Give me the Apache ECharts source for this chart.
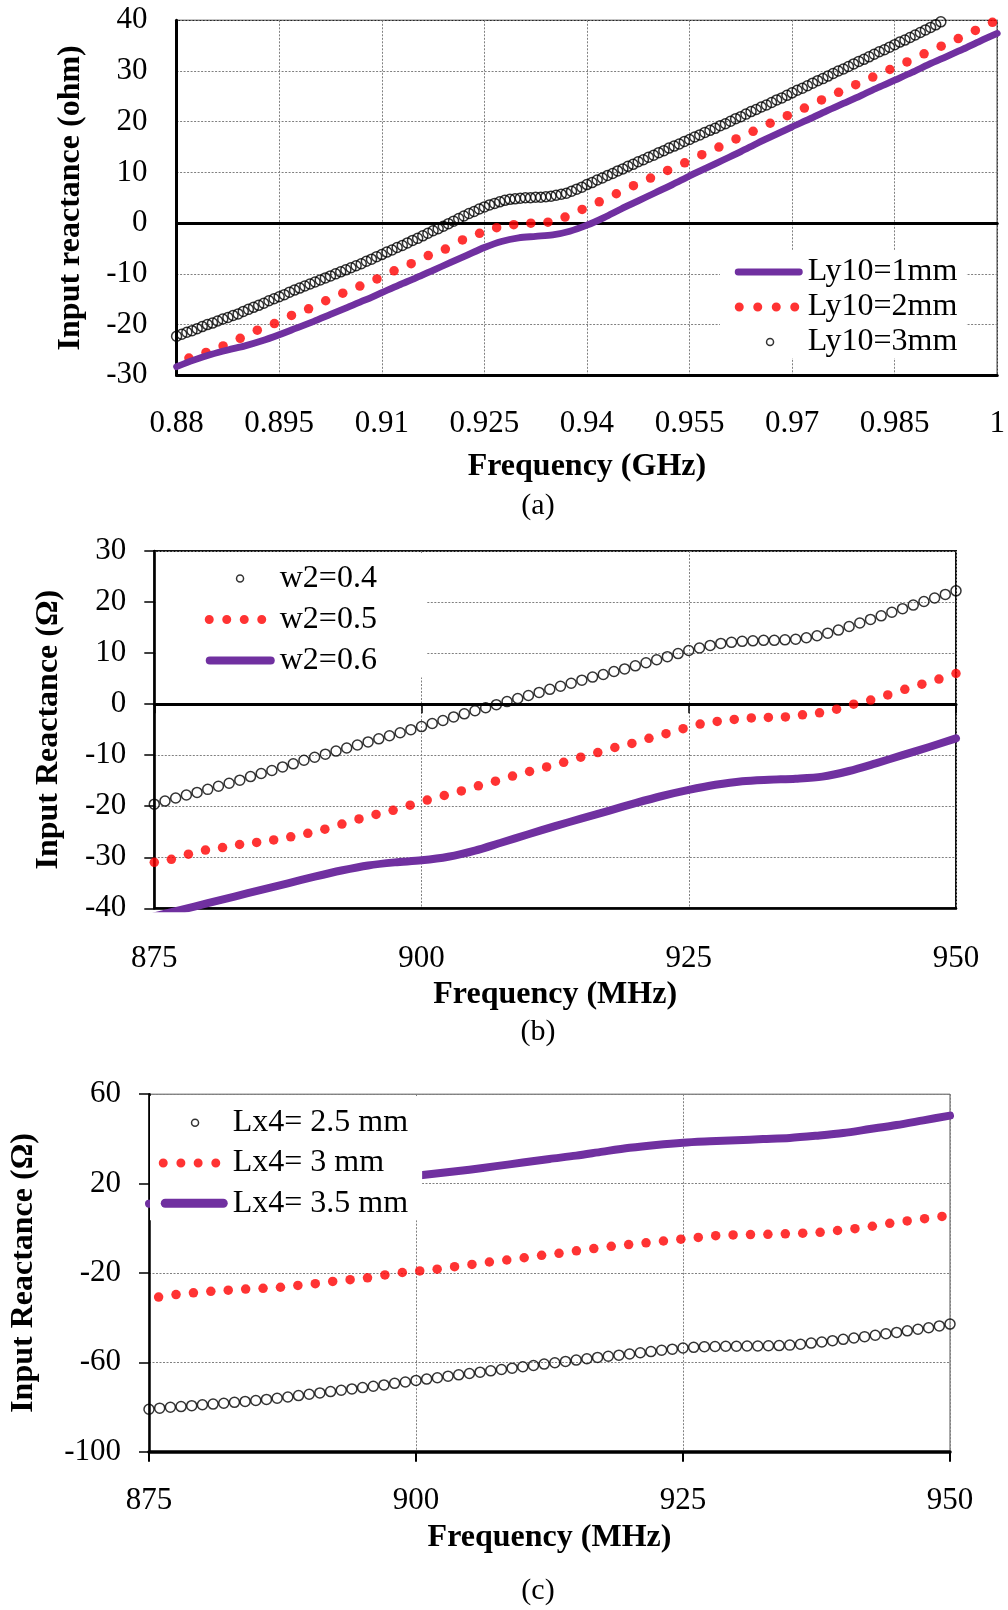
<!DOCTYPE html>
<html>
<head>
<meta charset="utf-8">
<script src="https://cdn.jsdelivr.net/npm/echarts@6/dist/echarts.min.js"></script>
<style>
  html, body { margin: 0; padding: 0; background: #fff; }
  #chart { width: 1008px; height: 1610px; }
</style>
</head>
<body>
<div id="chart"></div>
<script>
// ---------- (a) input reactance vs frequency (GHz), Ly10 sweep ----------
const aXRange = [0.88, 1.0, 0.015];
const aYRange = [-30, 40, 10];
// Ly10=1mm, sampled from 0.88 GHz every 0.0025 GHz
const aLy10_1 = [
  -28.3, -27.0, -25.9, -25.0, -24.2, -23.2, -22.0, -20.7, -19.4, -18.0,
  -16.6, -15.2, -13.7, -12.2, -10.8, -9.3, -7.8, -6.3, -4.8, -3.6,
  -2.9, -2.6, -2.3, -1.6, -0.4, 1.1, 2.8, 4.4, 6.0, 7.6,
  9.3, 10.9, 12.5, 14.1, 15.8, 17.4, 19.0, 20.5, 22.1, 23.6,
  25.1, 26.7, 28.2, 29.7, 31.3, 32.8, 34.3, 35.9, 37.4
];
// Ly10=2mm, sampled from 0.8818 GHz every 0.0025 GHz
const aLy10_2 = [
  -26.6, -25.5, -24.2, -22.7, -21.1, -19.8, -18.2, -16.9, -15.3, -13.8,
  -12.4, -11.0, -9.4, -8.0, -6.4, -5.1, -3.3, -2.0, -0.9, -0.3,
  0.0, 0.2, 1.2, 2.7, 4.2, 5.8, 7.4, 8.9, 10.4, 11.9,
  13.5, 15.0, 16.6, 18.1, 19.7, 21.2, 22.7, 24.3, 25.8, 27.3,
  28.8, 30.3, 31.8, 33.4, 34.9, 36.4, 38.0, 39.6
];
// Ly10=3mm, sampled from 0.88 GHz every 0.00075 GHz
const aLy10_3 = [
  -22.3, -21.9, -21.5, -21.2, -20.8, -20.4, -20.0, -19.7, -19.3, -18.9,
  -18.6, -18.2, -17.9, -17.4, -17.0, -16.6, -16.2, -15.8, -15.3, -14.9,
  -14.5, -14.1, -13.6, -13.2, -12.8, -12.4, -12.0, -11.6, -11.2, -10.8,
  -10.4, -10.0, -9.6, -9.2, -8.8, -8.4, -8.0, -7.5, -7.1, -6.6,
  -6.2, -5.7, -5.3, -4.8, -4.4, -3.9, -3.4, -3.0, -2.5, -2.0,
  -1.5, -1.1, -0.6, -0.1, 0.4, 0.9, 1.4, 1.9, 2.3, 2.8,
  3.2, 3.6, 3.9, 4.2, 4.5, 4.7, 4.8, 4.9, 5.0, 5.0,
  5.1, 5.1, 5.2, 5.3, 5.5, 5.7, 5.9, 6.3, 6.7, 7.1,
  7.6, 8.0, 8.5, 8.9, 9.4, 9.8, 10.3, 10.7, 11.2, 11.6,
  12.1, 12.5, 13.0, 13.4, 13.9, 14.3, 14.8, 15.2, 15.6, 16.1,
  16.5, 17.0, 17.4, 17.9, 18.3, 18.7, 19.2, 19.6, 20.1, 20.6,
  21.0, 21.5, 22.0, 22.4, 22.9, 23.3, 23.8, 24.3, 24.7, 25.2,
  25.7, 26.2, 26.6, 27.1, 27.6, 28.1, 28.5, 29.0, 29.5, 30.0,
  30.4, 30.9, 31.4, 31.9, 32.3, 32.8, 33.3, 33.8, 34.2, 34.7,
  35.2, 35.7, 36.1, 36.6, 37.1, 37.6, 38.1, 38.6, 39.1, 39.7
];

// ---------- (b) input reactance vs frequency (MHz), w2 sweep ----------
const bXRange = [875, 950, 25];
const bYRange = [-40, 30, 10];
// w2=0.4, every 1 MHz from 875 MHz
const bW04 = [
  -19.6, -19.0, -18.4, -17.8, -17.3, -16.7, -16.1, -15.5, -14.9, -14.2,
  -13.6, -13.0, -12.3, -11.7, -11.0, -10.4, -9.8, -9.2, -8.6, -8.0,
  -7.4, -6.8, -6.2, -5.6, -5.0, -4.4, -3.8, -3.2, -2.5, -1.9,
  -1.3, -0.7, -0.1, 0.5, 1.1, 1.7, 2.3, 2.9, 3.5, 4.1,
  4.7, 5.3, 5.8, 6.4, 6.9, 7.5, 8.1, 8.7, 9.3, 9.9,
  10.5, 11.0, 11.5, 11.9, 12.1, 12.3, 12.4, 12.5, 12.5, 12.6,
  12.7, 13.0, 13.4, 13.9, 14.5, 15.2, 15.9, 16.6, 17.3, 18.0,
  18.7, 19.4, 20.1, 20.8, 21.5, 22.2
];
// w2=0.5, 48 samples spread evenly over 875-950 MHz
const bW05 = [
  -31.0, -30.4, -29.4, -28.6, -28.1, -27.5, -27.1, -26.6, -26.0, -25.3,
  -24.5, -23.5, -22.5, -21.6, -20.8, -19.8, -18.8, -17.9, -17.0, -16.0,
  -15.1, -14.1, -13.2, -12.3, -11.4, -10.4, -9.5, -8.5, -7.7, -6.7,
  -5.8, -4.8, -3.9, -3.4, -3.0, -2.7, -2.6, -2.5, -2.1, -1.7,
  -1.0, 0.0, 0.8, 1.8, 2.9, 3.9, 4.9, 6.0
];
// w2=0.6, every 2.5 MHz from 875 MHz
const bW06 = [
  -41.6, -40.3, -39.0, -37.7, -36.4, -35.1, -33.8, -32.6, -31.6, -31.0,
  -30.6, -29.9, -28.7, -27.1, -25.5, -23.9, -22.4, -20.9, -19.4, -18.0,
  -16.8, -15.8, -15.1, -14.8, -14.6, -14.2, -13.1, -11.6, -10.0, -8.4,
  -6.7
];

// ---------- (c) input reactance vs frequency (MHz), Lx4 sweep ----------
const cXRange = [875, 950, 25];
const cYRange = [-100, 60, 40];
// Lx4=2.5 mm, every 1 MHz from 875 MHz
const cL25 = [
  -81.0, -80.5, -80.1, -79.8, -79.4, -79.0, -78.7, -78.3, -77.9, -77.5,
  -77.1, -76.6, -76.1, -75.5, -74.9, -74.3, -73.7, -73.1, -72.5, -71.9,
  -71.3, -70.7, -70.1, -69.4, -68.8, -68.1, -67.5, -66.9, -66.2, -65.6,
  -65.0, -64.4, -63.8, -63.2, -62.6, -62.0, -61.4, -60.8, -60.2, -59.6,
  -59.0, -58.4, -57.8, -57.3, -56.8, -56.3, -55.7, -55.2, -54.6, -54.1,
  -53.6, -53.3, -53.0, -52.9, -52.8, -52.8, -52.7, -52.7, -52.6, -52.5,
  -52.3, -51.9, -51.4, -50.9, -50.3, -49.7, -49.1, -48.5, -47.9, -47.2,
  -46.6, -45.9, -45.2, -44.5, -43.7, -42.9
];
// Lx4=3 mm, every 1.63 MHz from 875.9 MHz
const cL30 = [
  -30.8, -29.7, -28.9, -28.2, -27.7, -27.2, -26.9, -26.4, -25.6, -24.8,
  -23.8, -23.0, -22.2, -20.9, -19.8, -19.1, -18.3, -17.2, -16.2, -15.1,
  -14.2, -13.2, -12.1, -11.2, -10.1, -9.1, -8.1, -7.3, -6.5, -5.7,
  -4.9, -4.1, -3.3, -3.0, -2.8, -2.7, -2.5, -2.2, -1.8, -1.0,
  -0.2, 0.9, 2.2, 3.3, 4.3, 5.3
];
// Lx4=3.5 mm, every 2.5 MHz from 875 MHz
const cL35 = [
  11.0, 12.0, 13.3, 14.5, 15.8, 17.0, 18.3, 19.6, 20.9, 22.2,
  23.5, 24.8, 26.2, 27.8, 29.4, 31.0, 32.5, 34.3, 36.0, 37.3,
  38.3, 38.9, 39.4, 39.9, 40.4, 41.4, 42.6, 44.4, 46.2, 48.3,
  50.4
];

// ---------- helpers ----------
const FONT = '"Liberation Serif", "Times New Roman", serif';
const PURPLE = '#7030A0';
const RED = '#FF0000';
const GRID_LINE = { show: true, lineStyle: { color: '#808080', width: 1, type: [2, 1.5] } };

// pair sampled frequencies with the reactance values
function pairs(start, step, ys) {
  return ys.map((y, i) => [+(start + i * step).toFixed(5), y]);
}

// legend icons: a 10px tall box, width w; the two leading moves fix its bounds
function dotsIcon(w, centers, r) {
  let p = 'path://M0 0M' + w + ' 10';
  centers.forEach(c => {
    p += 'M' + (c - r) + ' 5A' + r + ' ' + r + ' 0 1 0 ' + (c + r) + ' 5A' + r + ' ' + r + ' 0 1 0 ' + (c - r) + ' 5Z';
  });
  return p;
}
function barIcon(w, a, b, t) {
  const r = t / 2, y0 = 5 - r, y1 = 5 + r;
  return 'path://M0 0M' + w + ' 10M' + (a + r) + ' ' + y0 + 'L' + (b - r) + ' ' + y0 +
    'A' + r + ' ' + r + ' 0 0 1 ' + (b - r) + ' ' + y1 + 'L' + (a + r) + ' ' + y1 +
    'A' + r + ' ' + r + ' 0 0 1 ' + (a + r) + ' ' + y0 + 'Z';
}

const tickLabel = (margin, fmt) => ({
  color: '#000', fontFamily: FONT, fontSize: 31, margin: margin, formatter: fmt
});
const axisTitle = { color: '#000', fontFamily: FONT, fontSize: 32, fontWeight: 'bold' };
const legendText = { color: '#000', fontFamily: FONT, fontSize: 32, lineHeight: 32 };

const circleStyle = { color: 'rgba(0,0,0,0)', borderColor: '#000', borderWidth: 1.5 };
const dotStyle = { color: RED, borderWidth: 0 };
const lineIconStyle = { color: PURPLE, borderWidth: 0 };

function valueXAxis(gridIndex, range, extra) {
  return Object.assign({
    type: 'value', gridIndex: gridIndex, position: 'bottom',
    min: range[0], max: range[1], interval: range[2]
  }, extra);
}
function valueYAxis(gridIndex, range, extra) {
  return Object.assign({
    type: 'value', gridIndex: gridIndex, position: 'left',
    min: range[0], max: range[1], interval: range[2]
  }, extra);
}

const option = {
  backgroundColor: '#fff',
  animation: false,
  grid: [
    { left: 176.6, top: 20.3, width: 821.1, height: 355, show: true, borderColor: '#222', borderWidth: 1.3, backgroundColor: 'transparent' },
    { left: 154.3, top: 551, width: 801.7, height: 357.3, show: true, borderColor: '#111', borderWidth: 2, backgroundColor: 'transparent' },
    { left: 148, top: 1094.2, width: 802, height: 357.5, show: true, borderColor: '#555', borderWidth: 1, backgroundColor: 'transparent' }
  ],
  xAxis: [
    valueXAxis(0, aXRange, {
      axisLine: { show: true, onZero: false, lineStyle: { color: '#000', width: 3 } },
      axisTick: { show: false },
      axisLabel: tickLabel(33, v => String(parseFloat(v.toFixed(3)))),
      splitLine: GRID_LINE,
      name: 'Frequency (GHz)', nameLocation: 'middle', nameGap: 75, nameTextStyle: axisTitle
    }),
    valueXAxis(0, aXRange, {
      axisLine: { show: true, onZero: true, lineStyle: { color: '#000', width: 3 } },
      axisTick: { show: false }, axisLabel: { show: false }, splitLine: { show: false }
    }),
    valueXAxis(1, bXRange, {
      axisLine: { show: true, onZero: false, lineStyle: { color: '#000', width: 2.5 } },
      axisTick: { show: false },
      axisLabel: tickLabel(35),
      splitLine: GRID_LINE,
      name: 'Frequency (MHz)', nameLocation: 'middle', nameGap: 70, nameTextStyle: axisTitle
    }),
    valueXAxis(1, bXRange, {
      axisLine: { show: true, onZero: true, lineStyle: { color: '#000', width: 3 } },
      axisTick: { show: true, length: 9, lineStyle: { color: '#000', width: 1.5 } },
      axisLabel: { show: false }, splitLine: { show: false }
    }),
    valueXAxis(2, cXRange, {
      axisLine: { show: true, onZero: false, lineStyle: { color: '#000', width: 3.5 } },
      axisTick: { show: true, length: 10, lineStyle: { color: '#000', width: 2 } },
      axisLabel: tickLabel(34),
      splitLine: GRID_LINE,
      name: 'Frequency (MHz)', nameLocation: 'middle', nameGap: 70, nameTextStyle: axisTitle
    })
  ],
  yAxis: [
    valueYAxis(0, aYRange, {
      axisLine: { show: true, onZero: false, lineStyle: { color: '#000', width: 3 } },
      axisTick: { show: false },
      axisLabel: tickLabel(29),
      splitLine: GRID_LINE,
      name: 'Input reactance (ohm)', nameLocation: 'middle', nameGap: 90, nameTextStyle: axisTitle
    }),
    valueYAxis(1, bYRange, {
      axisLine: { show: true, onZero: false, lineStyle: { color: '#000', width: 2.5 } },
      axisTick: { show: true, length: 10, lineStyle: { color: '#000', width: 1.5 } },
      axisLabel: tickLabel(28),
      splitLine: GRID_LINE,
      name: 'Input Reactance (\u03A9)', nameLocation: 'middle', nameGap: 90, nameTextStyle: axisTitle
    }),
    valueYAxis(2, cYRange, {
      axisLine: { show: true, onZero: false, lineStyle: { color: '#000', width: 2.5 } },
      axisTick: { show: true, length: 10, lineStyle: { color: '#000', width: 1.5 } },
      axisLabel: tickLabel(28),
      splitLine: GRID_LINE,
      name: 'Input Reactance (\u03A9)', nameLocation: 'middle', nameGap: 109, nameTextStyle: axisTitle
    })
  ],
  legend: [
    {
      orient: 'vertical', left: 720, top: 250, padding: [6, 9, 0, 14], itemGap: 3,
      itemWidth: 68, itemHeight: 10, backgroundColor: '#fff', selectedMode: false,
      textStyle: legendText,
      data: [
        { name: 'Ly10=1mm', icon: barIcon(68, 0, 68, 6.8), itemStyle: lineIconStyle },
        { name: 'Ly10=2mm', icon: dotsIcon(68, [4.5, 23, 41.5, 60], 4.5), itemStyle: dotStyle },
        { name: 'Ly10=3mm', icon: dotsIcon(68, [35.3], 3.5), itemStyle: circleStyle }
      ]
    },
    {
      orient: 'vertical', left: 156, top: 553, padding: [9.5, 50, 1, 48], itemGap: 9,
      itemWidth: 70, itemHeight: 10, backgroundColor: '#fff', selectedMode: false,
      textStyle: legendText,
      data: [
        { name: 'w2=0.4', icon: dotsIcon(70, [35.3], 3.5), itemStyle: circleStyle },
        { name: 'w2=0.5', icon: dotsIcon(70, [4.5, 22, 39.5, 57], 4.5), itemStyle: dotStyle },
        { name: 'w2=0.6', icon: barIcon(70, 1, 70, 8.2), itemStyle: lineIconStyle }
      ]
    },
    {
      orient: 'vertical', left: 150, top: 1096, padding: [10.7, 14, 1, 8], itemGap: 8.3,
      itemWidth: 69, itemHeight: 10, backgroundColor: '#fff', selectedMode: false,
      textStyle: legendText,
      data: [
        { name: 'Lx4= 2.5 mm', icon: dotsIcon(69, [36.3], 3.5), itemStyle: circleStyle },
        { name: 'Lx4= 3 mm', icon: dotsIcon(69, [4.3, 22, 39.3, 57], 4.5), itemStyle: dotStyle },
        { name: 'Lx4= 3.5 mm', icon: barIcon(69, 2, 69, 9), itemStyle: lineIconStyle }
      ]
    }
  ],
  series: [
    // (a)
    { type: 'line', name: 'Ly10=1mm', xAxisIndex: 0, yAxisIndex: 0, data: pairs(0.88, 0.0025, aLy10_1),
      symbol: 'none', smooth: 0.3, lineStyle: { color: PURPLE, width: 6.8, cap: 'round', join: 'round' },
      itemStyle: { color: PURPLE }, silent: true },
    { type: 'scatter', name: 'Ly10=2mm', xAxisIndex: 0, yAxisIndex: 0, data: pairs(0.8818, 0.0025, aLy10_2),
      symbol: 'circle', symbolSize: 9.5, itemStyle: { color: RED }, silent: true },
    { type: 'scatter', name: 'Ly10=3mm', xAxisIndex: 0, yAxisIndex: 0, data: pairs(0.88, 0.00075, aLy10_3),
      symbol: 'circle', symbolSize: 10, itemStyle: circleStyle, silent: true },
    // (b)
    { type: 'scatter', name: 'w2=0.4', xAxisIndex: 2, yAxisIndex: 1, data: pairs(875, 1, bW04),
      symbol: 'circle', symbolSize: 10, itemStyle: circleStyle, silent: true },
    { type: 'scatter', name: 'w2=0.5', xAxisIndex: 2, yAxisIndex: 1, data: pairs(875, 75 / 47, bW05),
      symbol: 'circle', symbolSize: 9.5, itemStyle: { color: RED }, silent: true },
    { type: 'line', name: 'w2=0.6', xAxisIndex: 2, yAxisIndex: 1, data: pairs(875, 2.5, bW06),
      symbol: 'none', smooth: 0.3, lineStyle: { color: PURPLE, width: 8, cap: 'round', join: 'round' },
      itemStyle: { color: PURPLE }, silent: true },
    // (c)
    { type: 'scatter', name: 'Lx4= 2.5 mm', xAxisIndex: 4, yAxisIndex: 2, data: pairs(875, 1, cL25),
      symbol: 'circle', symbolSize: 10, itemStyle: circleStyle, silent: true },
    { type: 'scatter', name: 'Lx4= 3 mm', xAxisIndex: 4, yAxisIndex: 2, data: pairs(875.9, 1.63, cL30),
      symbol: 'circle', symbolSize: 9.5, itemStyle: { color: RED }, silent: true },
    { type: 'line', name: 'Lx4= 3.5 mm', xAxisIndex: 4, yAxisIndex: 2, data: pairs(875, 2.5, cL35),
      symbol: 'none', smooth: 0.3, lineStyle: { color: PURPLE, width: 8, cap: 'round', join: 'round' },
      itemStyle: { color: PURPLE }, silent: true }
  ],
  graphic: [
    { type: 'text', x: 538, y: 506, style: { text: '(a)', fontFamily: FONT, fontSize: 30, fill: '#000', align: 'center', verticalAlign: 'middle', textAlign: 'center', textVerticalAlign: 'middle' } },
    { type: 'text', x: 538, y: 1032, style: { text: '(b)', fontFamily: FONT, fontSize: 30, fill: '#000', align: 'center', verticalAlign: 'middle', textAlign: 'center', textVerticalAlign: 'middle' } },
    { type: 'text', x: 538, y: 1591, style: { text: '(c)', fontFamily: FONT, fontSize: 30, fill: '#000', align: 'center', verticalAlign: 'middle', textAlign: 'center', textVerticalAlign: 'middle' } }
  ]
};

const chart = echarts.init(document.getElementById('chart'), null, { renderer: 'canvas' });
chart.setOption(option);
</script>
</body>
</html>
